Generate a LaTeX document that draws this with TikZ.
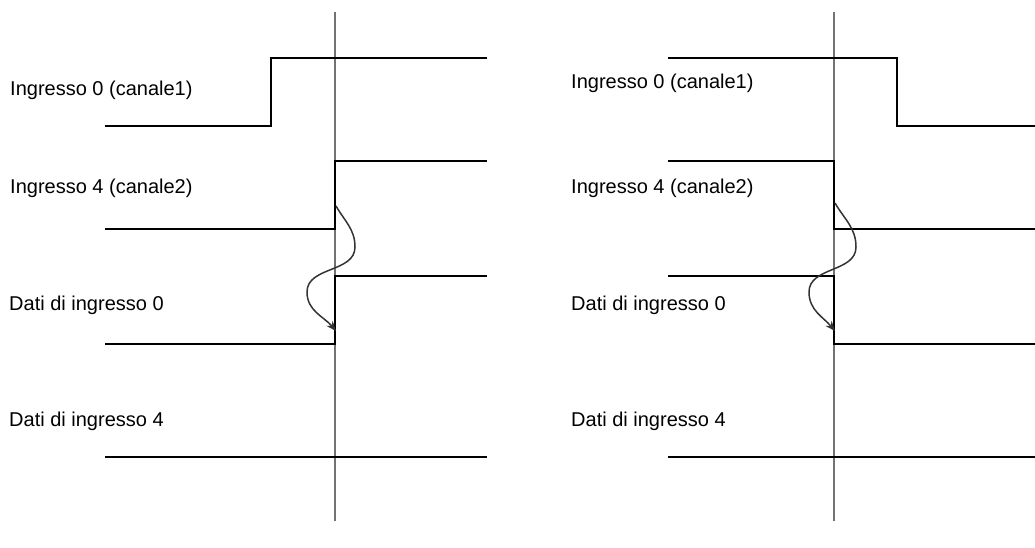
\documentclass[tikz,border=0pt]{standalone}
\usepackage{fontspec}
\setmainfont{Liberation Sans}
\usetikzlibrary{arrows.meta}
\begin{document}
\begin{tikzpicture}[x=1pt,y=-1pt,
  sig/.style={draw=black,line width=2pt,line join=miter},
  cursor/.style={draw=black!55,line width=1.2pt},
  delay/.style={draw=black!80,line width=1.5pt,-{Stealth[length=10pt,width=8pt]}},
  lbl/.style={anchor=base west,inner sep=0pt,font=\fontsize{20}{24}\selectfont}]
\useasboundingbox (0,0) rectangle (1035,547);
% cursors
\draw[cursor] (335,12) -- (335,521);
\draw[cursor] (834,12) -- (834,521);
% left waveforms
\draw[sig] (105,126) -- (271,126) -- (271,58) -- (487,58);
\draw[sig] (105,229) -- (335,229) -- (335,161) -- (487,161);
\draw[sig] (105,344) -- (335,344) -- (335,276) -- (487,276);
\draw[sig] (105,457) -- (487,457);
% right waveforms
\draw[sig] (668,58) -- (897,58) -- (897,126) -- (1035,126);
\draw[sig] (668,161) -- (834,161) -- (834,229) -- (1035,229);
\draw[sig] (668,276) -- (834,276) -- (834,344) -- (1035,344);
\draw[sig] (668,457) -- (1035,457);
% labels left
\node[lbl] (l1) at (10,95) {Ingresso 0 (canale1)};
\node[lbl] (l2) at (10,193) {Ingresso 4 (canale2)};
\node[lbl] (l3) at (9,310) {Dati di ingresso 0};
\node[lbl] (l4) at (9,426) {Dati di ingresso 4};
% labels right
\node[lbl] (r1) at (571,88) {Ingresso 0 (canale1)};
\node[lbl] (r2) at (571,193) {Ingresso 4 (canale2)};
\node[lbl] (r3) at (571,310) {Dati di ingresso 0};
\node[lbl] (r4) at (571,426) {Dati di ingresso 4};
% delay arrows
\coordinate (la) at (336,206);
\coordinate (lb) at (336,331);
\coordinate (ra) at (835,203);
\coordinate (rb) at (835,331);
\draw[delay] (la) to[out=-60,in=90] (355,247) to[out=-90,in=90] (307,292) to[out=-90,in=130] (lb);
\draw[delay] (ra) to[out=-60,in=90] (856,247) to[out=-90,in=90] (809,292) to[out=-90,in=130] (rb);
\end{tikzpicture}
\end{document}
